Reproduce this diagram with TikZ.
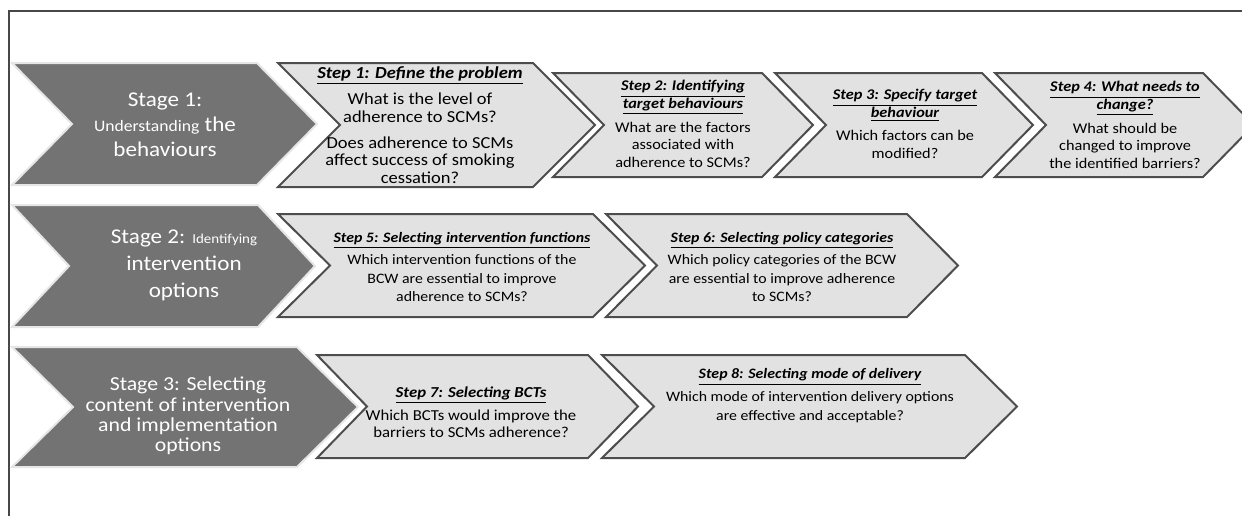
\documentclass[tikz,border=0pt]{standalone}
\usepackage{fontspec}
\setmainfont[FakeStretch=1.1]{Carlito}
\usepackage{tikz}

\definecolor{stagegray}{HTML}{737373}
\definecolor{stageedge}{HTML}{E6E6E6}
\definecolor{stepfill}{HTML}{E1E2E1}
\definecolor{stepedge}{HTML}{4D4D4D}
\definecolor{framegray}{HTML}{474747}

% chevron: style, left x, right corner x, point depth, top y, bottom y
\newcommand{\chevron}[6]{%
  \draw[#1] (#2,#5) -- (#3,#5) -- ({#3+#4},{(#5+#6)/2}) -- (#3,#6)
    -- (#2,#6) -- ({#2+#4},{(#5+#6)/2}) -- cycle;}
\newcommand{\steptitle}[1]{\textbf{\textit{\underline{#1}}}}
\newcommand{\smallstage}{\fontsize{8}{12}\selectfont}

\begin{document}
\begin{tikzpicture}[
  x=0.5pt, y=-0.5pt,
  stagebox/.style={fill=stagegray, draw=stageedge, line width=1pt, line join=miter},
  stepbox/.style ={fill=stepfill, draw=stepedge, line width=1pt, line join=miter},
  stagetext/.style={text=white, align=center, inner sep=0pt},
  steptext/.style ={text=black, align=center, inner sep=0pt},
  frame/.style={draw=framegray, line width=1pt},
]
\useasboundingbox (0,0) rectangle (1242,516);
\clip (0,0) rectangle (1242,516);

% outer frame, open on the right and at the bottom
\draw[frame] (9,516) -- (9,11) -- (1242,11);

% Stage 1 row
\chevron{stagebox}{12}{257}{60}{63}{185}
\chevron{stepbox}{278}{533}{62}{63}{187}
\chevron{stepbox}{553}{762}{51}{73}{177}
\chevron{stepbox}{775}{982}{51}{73}{177}
\chevron{stepbox}{995}{1203}{51}{73}{177}

% Stage 2 row
\chevron{stagebox}{12}{258}{57}{205}{327}
\chevron{stepbox}{278}{593}{52}{214}{317}
\chevron{stepbox}{606}{907}{51}{214}{317}

% Stage 3 row
\chevron{stagebox}{12}{297}{61}{347}{467}
\chevron{stepbox}{317}{588}{50}{355}{458}
\chevron{stepbox}{602}{965}{52}{355}{458}

% stage labels
\node[stagetext, font=\fontsize{10.5}{12.5}\selectfont] (stage1) at (165,125)
  {Stage 1:\\{\smallstage Understanding} the\\behaviours};
\node[stagetext, font=\fontsize{10.5}{13.5}\selectfont] (stage2) at (184,265)
  {Stage 2: {\fontsize{6.8}{12}\selectfont Identifying}\\intervention\\options};
\node[stagetext, font=\fontsize{9.9}{10.2}\selectfont] (stage3) at (188,416)
  {Stage 3: Selecting\\content of intervention\\and implementation\\options};

% step labels
\node[steptext, font=\fontsize{8.4}{8.9}\selectfont] (step1) at (420,125)
  {\steptitle{Step 1: Define the problem}\\[3pt]
   What is the level of\\adherence to SCMs?\\[4pt]
   Does adherence to SCMs\\affect success of smoking\\cessation?};
\node[steptext, font=\fontsize{7.4}{8.8}\selectfont] (step2) at (683,124)
  {\steptitle{Step 2: Identifying}\\\steptitle{target behaviours}\\[3pt]
   What are the factors\\associated with\\adherence to SCMs?};
\node[steptext, font=\fontsize{7.4}{8.8}\selectfont] (step3) at (905,124)
  {\steptitle{Step 3: Specify target}\\\steptitle{behaviour}\\[3pt]
   Which factors can be\\modified?};
\node[steptext, font=\fontsize{7.4}{8.8}\selectfont] (step4) at (1125,125)
  {\steptitle{Step 4: What needs to}\\\steptitle{change?}\\[3pt]
   What should be\\changed to improve\\the identified barriers?};
\node[steptext, font=\fontsize{7.2}{9.3}\selectfont] (step5) at (462,267)
  {\steptitle{Step 5: Selecting intervention functions}\\[2pt]
   Which intervention functions of the\\BCW are essential to improve\\adherence to SCMs?};
\node[steptext, font=\fontsize{7.2}{9.3}\selectfont] (step6) at (782,267)
  {\steptitle{Step 6: Selecting policy categories}\\[2pt]
   Which policy categories of the BCW\\are essential to improve adherence\\to SCMs?};
\node[steptext, font=\fontsize{7.6}{8.6}\selectfont] (step7) at (471,412)
  {\steptitle{Step 7: Selecting BCTs}\\[3pt]
   Which BCTs would improve the\\barriers to SCMs adherence?};
\node[steptext, font=\fontsize{7.2}{9.5}\selectfont] (step8) at (810,396)
  {\steptitle{Step 8: Selecting mode of delivery}\\[2pt]
   Which mode of intervention delivery options\\are effective and acceptable?};
\end{tikzpicture}
\end{document}
